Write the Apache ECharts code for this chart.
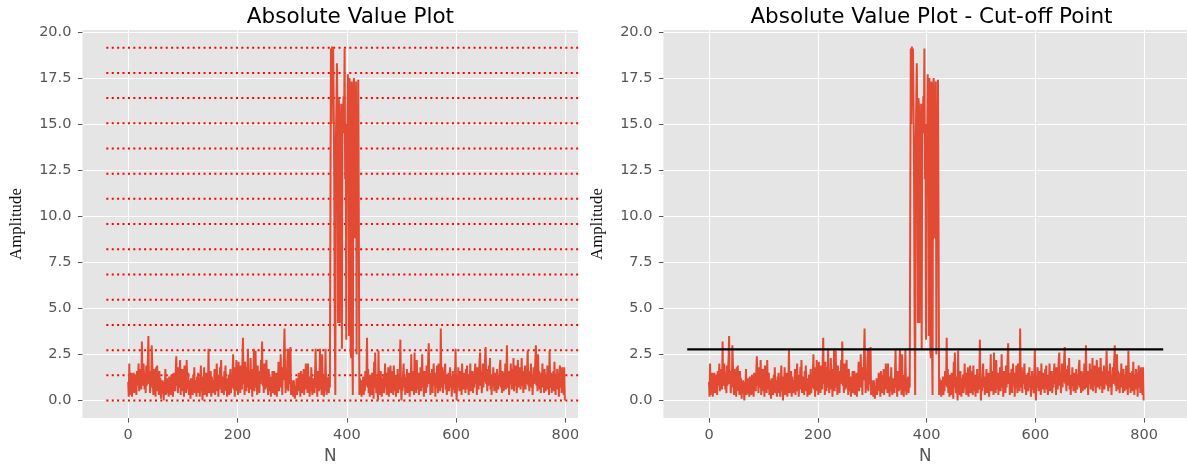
<!DOCTYPE html>
<html>
<head>
<meta charset="utf-8">
<script src="https://cdn.jsdelivr.net/npm/echarts@6/dist/echarts.min.js"></script>
<style>
html,body{margin:0;padding:0;background:#fff;}
#chart{width:1187px;height:470px;}
</style>
</head>
<body>
<div id="chart"></div>
<script>
// Signal before the burst (n = 0 .. 369)
var noiseBefore = [
1.0,0.2,2.0,0.3,1.4,0.6,1.5,0.2,1.3,0.9, 1.5,0.4,1.1,0.7,1.4,0.3,1.6,0.8,1.2,2.0,
0.5,1.3,0.9,1.7,0.6,3.2,1.1,0.8,2.0,1.4, 0.6,1.2,0.4,1.9,0.8,1.5,2.3,3.5,0.9,1.6,
0.4,1.2,0.7,3.0,3.1,1.0,0.3,1.7,0.6,1.3, 0.2,1.8,0.9,1.9,0.5,1.1,0.3,1.6,0.8,1.2,
0.1,0.9,0.4,1.1,0.6,0.0,1.0,0.5,1.7,0.3, 0.8,1.2,0.4,0.9,0.2,1.3,0.7,1.0,0.3,1.4,
0.6,1.1,0.2,1.5,0.9,1.3,0.5,1.6,2.4,0.8, 1.2,0.4,1.8,0.7,1.1,2.2,0.3,1.4,0.9,1.7,
0.5,1.2,0.2,1.9,0.7,1.3,0.4,2.2,1.0,0.6, 1.5,0.3,1.1,0.8,0.1,1.2,0.5,1.0,0.3,1.4,
0.7,1.8,0.4,1.1,0.6,0.2,1.3,0.9,1.5,0.4, 1.0,0.2,1.2,1.9,0.5,0.9,0.0,1.3,0.7,1.8,
0.3,1.1,0.6,1.5,0.2,1.0,0.8,2.8,0.4,1.2, 0.6,1.6,0.2,1.3,0.9,0.4,1.1,0.7,1.7,0.3,
1.0,0.5,2.0,0.8,1.4,0.2,1.2,0.6,1.8,0.9, 2.2,0.4,1.3,0.7,1.1,0.3,1.6,0.8,1.9,0.5,
1.2,0.2,1.0,0.6,1.4,0.3,0.9,1.7,0.4,1.1, 0.7,1.5,2.5,0.6,1.3,0.2,1.8,0.9,2.2,0.5,
1.6,0.3,2.1,0.8,1.4,0.4,1.9,1.1,0.6,2.0, 3.4,0.9,1.5,0.3,2.1,1.2,0.5,1.8,0.7,2.8,
1.0,0.4,1.6,0.8,2.3,0.6,1.3,0.2,1.7,0.9, 2.8,0.5,1.4,2.7,0.7,1.2,0.3,1.9,0.6,1.1,
0.4,1.6,0.9,2.2,1.3,3.2,0.8,1.5,0.4,2.0, 1.0,0.6,1.8,2.2,0.7,1.4,0.3,1.7,1.0,0.5,
1.3,0.2,1.1,0.8,1.6,0.4,1.2,1.6,0.3,0.9, 0.6,1.5,0.2,1.3,0.8,2.1,0.5,1.4,0.9,2.5,
0.7,1.2,0.3,1.8,1.1,1.1,3.9,1.6,0.4,1.3, 0.6,2.0,2.8,0.5,1.2,2.8,0.9,2.9,0.3,1.1,
0.4,0.9,0.2,1.1,0.6,0.1,0.8,0.4,1.2,0.3, 1.0,0.5,1.5,0.7,1.3,0.2,1.6,0.9,0.4,1.4,
0.8,1.7,0.3,1.2,0.6,2.0,0.9,1.5,0.4,2.0, 0.7,1.3,0.2,1.1,0.5,1.8,0.8,0.3,1.2,0.6,
1.0,0.4,1.5,2.8,0.7,1.1,0.2,1.6,0.9,0.5, 1.3,2.8,0.6,1.2,0.3,2.5,0.8,1.4,0.2,1.0,
0.5,2.8,0.9,0.3,1.2,0.6,1.3,0.4,1.1,0.7
];
// The burst (n = 370 .. 424)
var burst = [
0.8,19.1,15.0,19.2,16.0,19.1,16.0,12.0,4.2,0.3,
14.0,16.0,18.3,15.0,4.2,16.4,16.0,4.2,15.6,13.5,
16.1,2.8,15.8,14.5,16.5,15.0,19.1,12.0,14.2,3.3,
15.0,14.0,17.7,16.5,3.5,17.5,16.0,2.6,2.3,17.3,
3.0,0.3,16.0,17.5,14.5,8.8,8.8,17.3,2.5,16.0,
8.8,17.4,9.5,0.3,1.2
];
// Signal after the burst (n = 425 .. 799)
var noiseAfter = [
0.4,1.1,0.2,0.9,0.6,1.3,0.3,1.0,0.5,1.6, 0.8,1.2,3.4,0.7,1.7,0.4,1.1,0.2,1.4,0.9,
0.3,1.5,0.6,1.2,0.1,2.1,0.7,2.6,1.0,0.4, 1.3,0.8,0.0,2.7,0.5,1.1,0.3,1.6,0.9,0.2,
1.2,0.6,1.4,0.4,0.9,2.0,0.7,1.5,0.3,1.1, 0.6,1.8,0.2,1.3,0.8,1.9,0.4,1.0,0.7,1.6,
0.3,1.9,1.0,0.5,1.4,0.2,1.2,0.8,1.7,0.4, 1.1,0.6,1.3,3.3,0.9,0.0,1.2,0.5,1.5,2.0,
0.7,1.3,0.3,1.0,0.6,1.7,0.4,1.1,0.8,1.5, 0.2,1.3,0.9,2.5,0.5,1.2,0.7,1.6,0.3,2.6,
0.8,1.4,0.4,2.2,1.0,0.6,1.5,0.3,1.2,0.8, 1.8,0.5,1.1,2.5,0.7,1.4,0.2,1.6,0.9,1.3,
0.4,1.9,0.7,1.2,2.3,3.1,0.9,1.5,0.3,1.1, 0.6,1.7,0.4,1.3,2.0,0.8,1.5,0.2,1.2,0.7,
1.9,1.0,0.4,2.0,0.9,1.6,0.5,3.9,1.1,0.7, 1.8,0.4,1.3,0.9,1.6,2.0,0.6,1.4,0.3,1.1,
0.8,1.5,0.5,1.2,1.8,0.7,1.3,0.2,1.0,1.6, 0.6,1.2,0.4,1.4,2.8,0.9,0.0,1.3,0.7,1.8,
1.1,0.5,1.6,0.9,1.4,0.3,2.0,1.0,0.6,1.5, 0.8,1.3,0.4,1.7,1.0,1.9,0.6,1.2,0.3,1.4,
0.9,2.0,0.5,1.3,0.8,1.6,0.4,1.1,0.7,1.5, 2.0,0.9,1.3,0.3,1.8,1.0,0.6,1.4,2.2,2.6,
0.8,1.5,0.4,1.2,2.0,0.7,1.6,1.0,2.3,2.9, 0.9,1.7,0.5,1.3,0.8,1.9,1.1,2.3,0.6,1.4,
0.3,1.2,0.8,1.8,1.0,0.5,1.5,0.9,1.3,0.4, 1.7,1.0,0.6,1.4,0.8,1.9,2.2,0.7,1.3,0.4,
1.6,1.0,0.5,1.5,0.9,2.0,0.6,1.2,3.0,1.1, 0.7,1.6,0.3,1.4,0.9,2.0,1.2,0.6,1.7,1.0,
2.3,0.5,1.4,0.8,1.9,1.1,0.4,1.5,2.2,0.7, 1.3,0.9,1.8,0.6,1.2,2.3,0.8,1.6,0.4,1.3,
1.0,1.9,0.6,1.4,0.9,1.7,2.7,0.8,1.3,0.5, 1.6,1.0,2.0,0.7,1.4,0.3,1.2,1.8,0.9,1.5,
2.2,3.0,0.8,1.3,0.5,2.5,1.0,1.6,0.6,1.2, 0.4,1.5,0.9,2.0,0.7,1.3,0.4,1.7,1.0,0.5,
1.4,0.8,1.9,0.6,1.2,0.3,2.7,1.1,0.7,1.5, 0.4,1.3,0.9,1.6,0.5,2.1,1.0,0.3,1.4,0.8,
1.7,0.6,1.2,0.2,1.5,1.9,0.7,1.3,0.4,1.8, 0.9,1.6,0.3,1.8,0.0
];
// Dotted threshold levels (left) and cut-off (right)
var levels = [0,1.37,2.73,4.10,5.47,6.84,8.20,9.57,10.94,12.30,13.67,15.04,16.41,17.77,19.14];
var cutoff = 2.77;
var hlineX = [-40, 835];
var xTicks = [0,200,400,600,800];
var yTicks = [0,2.5,5,7.5,10,12.5,15,17.5,20];
var titles = ['Absolute Value Plot', 'Absolute Value Plot - Cut-off Point'];

var amplitude = noiseBefore.concat(burst, noiseAfter);
var pts = amplitude.map(function(v,i){return [i,v];});

var PX = 0.5465;
var XMIN = -83.75, XMAX = 878.75, YMIN = -0.957, YMAX = 20.1;
var leftL = 128.2 + XMIN*PX;        // left plot left edge
var rightL = 709.2 + XMIN*PX;       // right plot left edge
var fullW = (XMAX - XMIN)*PX;
var cropX = 578;                    // left image is cropped here
var leftMax = XMIN + (cropX - leftL)/PX;

var FONT = 'DejaVu Sans';
function xAxis(idx, max){
  return {
    type:'value', gridIndex:idx, min:XMIN, max:max,
    name:'N', nameLocation:'middle', nameGap:28,
    nameTextStyle:{color:'#555555', fontFamily:FONT, fontSize:16.8},
    axisLine:{show:false, onZero:false},
    axisTick:{show:true, length:4.5, lineStyle:{color:'#555555', width:1}, customValues:xTicks},
    axisLabel:{color:'#555555', fontFamily:FONT, fontSize:14.5, margin:10, customValues:xTicks,
      formatter:function(v){return String(Math.round(v));}},
    splitLine:{show:true, lineStyle:{color:'#ffffff', width:1.1}}
  };
}
function yAxis(idx){
  return {
    type:'value', gridIndex:idx, min:YMIN, max:YMAX,
    name:'Amplitude', nameLocation:'middle', nameGap:57, nameRotate:90,
    nameTextStyle:{color:'#111111', fontFamily:'Liberation Serif', fontSize:16.8},
    axisLine:{show:false, onZero:false},
    axisTick:{show:true, length:4.5, lineStyle:{color:'#555555', width:1}, customValues:yTicks},
    axisLabel:{color:'#555555', fontFamily:FONT, fontSize:14.5, margin:11, customValues:yTicks,
      formatter:function(v){return v.toFixed(1);}},
    splitLine:{show:true, lineStyle:{color:'#ffffff', width:1.1}}
  };
}

var series = [];
levels.forEach(function(l){
  series.push({type:'line', xAxisIndex:0, yAxisIndex:0, data:[[hlineX[0],l],[hlineX[1],l]],
    symbol:'none', silent:true, z:2, clip:true,
    lineStyle:{color:'#ff0000', width:2, type:[2,3.4], cap:'butt'}});
});
series.push({type:'line', xAxisIndex:0, yAxisIndex:0, data:pts, symbol:'none', z:3, clip:true,
  lineStyle:{color:'#E24A33', width:2}});
series.push({type:'line', xAxisIndex:1, yAxisIndex:1, data:pts, symbol:'none', z:3, clip:true,
  lineStyle:{color:'#E24A33', width:2}});
series.push({type:'line', xAxisIndex:1, yAxisIndex:1, data:[[hlineX[0],cutoff],[hlineX[1],cutoff]],
  symbol:'none', z:4, clip:true, lineStyle:{color:'#000000', width:2.1}});

var chart = echarts.init(document.getElementById('chart'), null, {renderer:'canvas'});
chart.setOption({
  animation:false,
  backgroundColor:'#ffffff',
  title:[
    {text:titles[0], left:leftL + fullW/2, top:1, textAlign:'center',
      textStyle:{fontFamily:FONT, fontSize:21.5, fontWeight:'normal', color:'#000'}},
    {text:titles[1], left:rightL + fullW/2, top:1, textAlign:'center',
      textStyle:{fontFamily:FONT, fontSize:21.5, fontWeight:'normal', color:'#000'}}
  ],
  grid:[
    {left:leftL, top:30, width:cropX-leftL, height:393, show:true, backgroundColor:'#E5E5E5', borderWidth:0, containLabel:false},
    {left:rightL, top:30, width:fullW, height:393, show:true, backgroundColor:'#E5E5E5', borderWidth:0, containLabel:false}
  ],
  xAxis:[xAxis(0, leftMax), xAxis(1, XMAX)],
  yAxis:[yAxis(0), yAxis(1)],
  series:series,
  graphic:[{type:'rect', left:cropX, top:426, shape:{width:14, height:24}, style:{fill:'#ffffff'}, z:100}]
});
</script>
</body>
</html>
